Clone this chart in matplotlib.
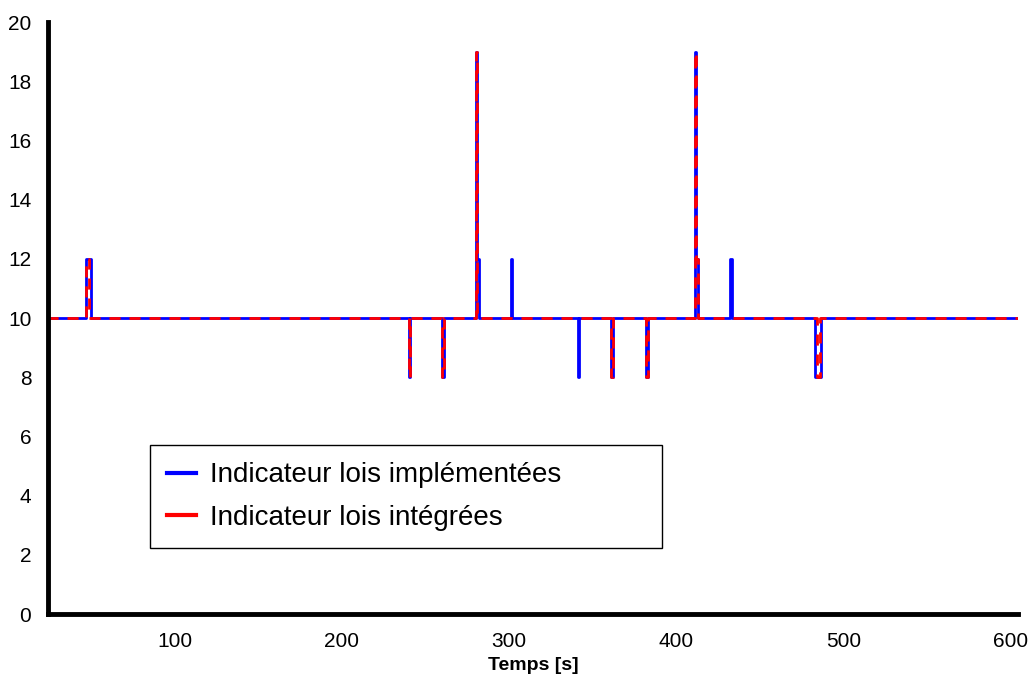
import numpy as np
import matplotlib
matplotlib.use("Agg")
from matplotlib import pyplot as plt

plt.rcParams['font.family'] = ['Liberation Sans', 'DejaVu Sans']

# Indicateur lois implémentées (step changes: time [s], value)
t_impl = [24, 47, 50, 240, 241, 260, 261, 280, 281, 282, 301, 302,
          341, 342, 361, 362, 382, 383, 411, 412, 413, 432, 433, 483, 486.5, 605]
v_impl = [10, 12, 10, 8, 10, 8, 10, 19, 12, 10, 12, 10,
          8, 10, 8, 10, 8, 10, 19, 12, 10, 12, 10, 8, 10, 10]

# Indicateur lois intégrées
t_integ = [24, 47, 49, 240, 241, 260, 261, 280, 281, 361, 362,
           382, 383, 411, 412, 413, 484, 486, 605]
v_integ = [10, 12, 10, 8, 10, 8, 10, 19, 10, 8, 10,
           8, 10, 19, 12, 10, 8, 10, 10]

xticks = [100, 200, 300, 400, 500, 600]
yticks = list(range(0, 21, 2))

fig = plt.figure(figsize=(10.32, 6.77), dpi=100)
ax = fig.add_axes([0.0465, 0.093, 0.94, 0.8745])

ax.step(t_impl, v_impl, where='post', color='#0000ff', lw=2.0,
        label='Indicateur lois implémentées')
ax.step(t_integ, v_integ, where='post', color='#ff0000', lw=2.0,
        linestyle=(0, (4, 3.2)), label='Indicateur lois intégrées')

ax.set_xlim(24.4, 604.3)
ax.set_ylim(0, 20)
ax.set_xticks(xticks)
ax.set_yticks(yticks)
ax.tick_params(length=0, labelsize=15)
ax.tick_params(axis='y', pad=12)
ax.tick_params(axis='x', pad=13)

for side in ['top', 'right']:
    ax.spines[side].set_visible(False)
for side in ['left', 'bottom']:
    ax.spines[side].set_linewidth(3.5)

ax.set_xlabel('Temps [s]', fontsize=14, fontweight='bold', labelpad=4)

leg = ax.legend(loc='lower left', bbox_to_anchor=(0.105, 0.111, 0.528, 0.174),
                mode='expand', borderaxespad=0, fontsize=20, handlelength=1.05,
                handletextpad=0.5, fancybox=False, edgecolor='black',
                framealpha=1, borderpad=0.62, labelspacing=0.6)
leg.get_frame().set_linewidth(1.0)
for line in leg.get_lines():
    line.set_linewidth(3)
    line.set_linestyle('-')

fig.savefig('out.png', dpi=100)
